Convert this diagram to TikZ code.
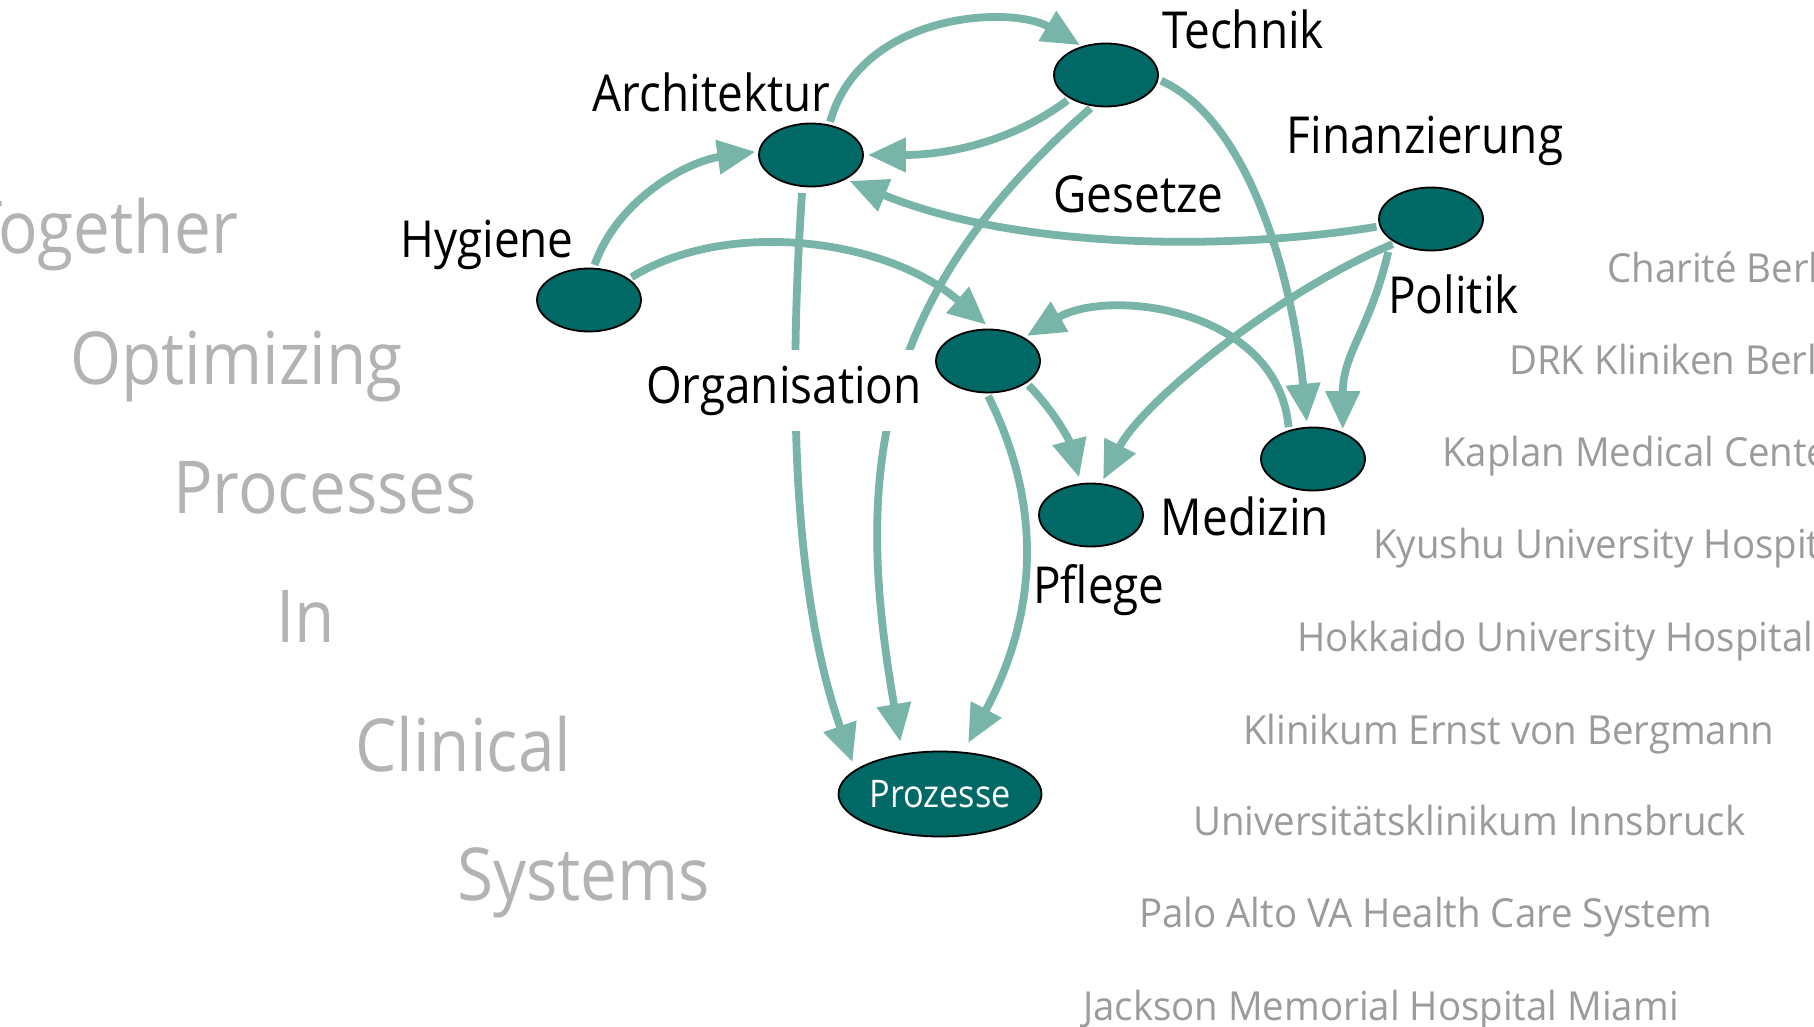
\documentclass[tikz,border=0pt]{standalone}
\usepackage{fontspec}
\setmainfont{Open Sans}
\newfontfamily\lblfont{Open Sans}[FakeStretch=0.9]
\newfontfamily\clinicfont{Open Sans}[FakeStretch=0.96]
\usepackage{tikz}
\usetikzlibrary{arrows.meta}
\usetikzlibrary{shapes.geometric}
\definecolor{petrol}{HTML}{006865}
\definecolor{mint}{HTML}{78B5A8}
\definecolor{mottogray}{HTML}{B3B3B3}
\definecolor{clinicgray}{HTML}{9B9B9B}
\tikzset{bubble/.style={ellipse, draw=black, line width=1.8pt, fill=petrol, minimum width=104pt, minimum height=63pt, inner sep=0pt}}
\tikzset{flow/.style={draw=mint, line width=7.8pt, -{Triangle[length=38pt,width=33pt]}, shorten <=3pt, shorten >=4pt}}
\tikzset{lbl/.style={anchor=base, inner sep=0pt, font=\lblfont\fontsize{51}{60}\selectfont}}
\tikzset{motto/.style={anchor=base west, inner sep=0pt, text=mottogray, font=\lblfont\fontsize{73}{80}\selectfont}}
\tikzset{clinic/.style={anchor=base west, inner sep=0pt, text=clinicgray, font=\clinicfont\fontsize{40}{48}\selectfont}}

\begin{document}
\begin{tikzpicture}[x=1pt,y=-1pt]
				\useasboundingbox (0,0) rectangle (1814,1027);
				\clip (0,0) rectangle (1814,1027);
				\node[motto, anchor=base east] (together) at (238,253) {Together};
				\node[motto] (optimizing) at (70,384) {Optimizing};
				\node[motto] (processes) at (173,513) {Processes};
				\node[motto] (in) at (276,642) {In};
				\node[motto] (clinical) at (355,771) {Clinical};
				\node[motto] (systems) at (457,900) {Systems};
				\node[clinic] (charite) at (1607,282) {Charité Berlin};
				\node[clinic] (drk) at (1509,374) {DRK Kliniken Berlin};
				\node[clinic] (kaplan) at (1442,466) {Kaplan Medical Center};
				\node[clinic] (kyushu) at (1373,558) {Kyushu University Hospital};
				\node[clinic] (hokkaido) at (1297,651) {Hokkaido University Hospital};
				\node[clinic] (bergmann) at (1243,744) {Klinikum Ernst von Bergmann};
				\node[clinic] (innsbruck) at (1193,835) {Universitätsklinikum Innsbruck};
				\node[clinic] (paloalto) at (1139,927) {Palo Alto VA Health Care System};
				\node[clinic] (jackson) at (1083,1020) {Jackson Memorial Hospital Miami};
				\node[bubble] (tech) at (1106,75) {};
				\node[bubble] (arch) at (811,155) {};
				\node[bubble] (pol) at (1431,219) {};
				\node[bubble] (hyg) at (589,300) {};
				\node[bubble] (org) at (988,361) {};
				\node[bubble] (med) at (1313,459) {};
				\node[bubble] (pfl) at (1091,515) {};
				\node[bubble, minimum width=203pt, minimum height=85pt, text=white, font=\lblfont\fontsize{38}{44}\selectfont] (proz) at (940,794) {Prozesse};
				\begin{scope}[flow]
					\draw[shorten >=2pt] (arch.59) .. controls +(32,-113) and +(-70,-41) .. (tech.130);
					\draw (tech.213) .. controls +(-60,45) and +(80,0) .. (arch.0);
					\draw[shorten >=12pt] (tech.247) .. controls +(-230,200) and +(-45,-262) .. (proz.133);
					\draw[shorten >=5pt] (tech.355) .. controls +(90,40) and +(-15,-150) .. (med.100);
					\draw (pol.188) .. controls +(-150,25) and +(170,70) .. (arch.325);
					\draw (pol.214) .. controls +(-120,50) and +(40,-80) .. (pfl.72);
					\draw[shorten <=12pt, shorten >=3pt] (pol.208) .. controls +(-22,92) and +(0,-80) .. (med.42);
					\draw[shorten >=3pt] (hyg.82) .. controls +(25,-70) and +(-70,10) .. (arch.176);
					\draw[shorten >=6pt] (hyg.28) .. controls +(99,-61) and +(-104,-90) .. (org.85);
					\draw[shorten >=3pt] (med.130) .. controls +(-11,-122) and +(85,-50) .. (org.33);
					\draw[shorten >=6pt] (org.330) .. controls +(25,25) and +(-12,-45) .. (pfl.108);
					\draw[shorten >=10pt] (org.268) .. controls +(60,120) and +(70,-130) .. (proz.61);
					\draw[shorten <=6pt, shorten >=8pt] (arch.255) .. controls +(-15,220) and +(-60,-170) .. (proz.164);
				\end{scope}
				\node[lbl] (technik) at (1243,49) {Technik};
				\node[lbl] (architektur) at (711.5,112) {Architektur};
				\node[lbl] (finanzierung) at (1425,154) {Finanzierung};
				\node[lbl] (gesetze) at (1138.5,212) {Gesetze};
				\node[lbl] (hygiene) at (487,257) {Hygiene};
				\node[lbl] (politik) at (1453.5,313) {Politik};
				\node[lbl, fill=white, inner xsep=6pt, inner ysep=16pt] (organisation) at (784,403) {Organisation};
				\node[lbl] (medizin) at (1245,535) {Medizin};
				\node[lbl] (pflege) at (1099,603) {Pflege};
\end{tikzpicture}
\end{document}
